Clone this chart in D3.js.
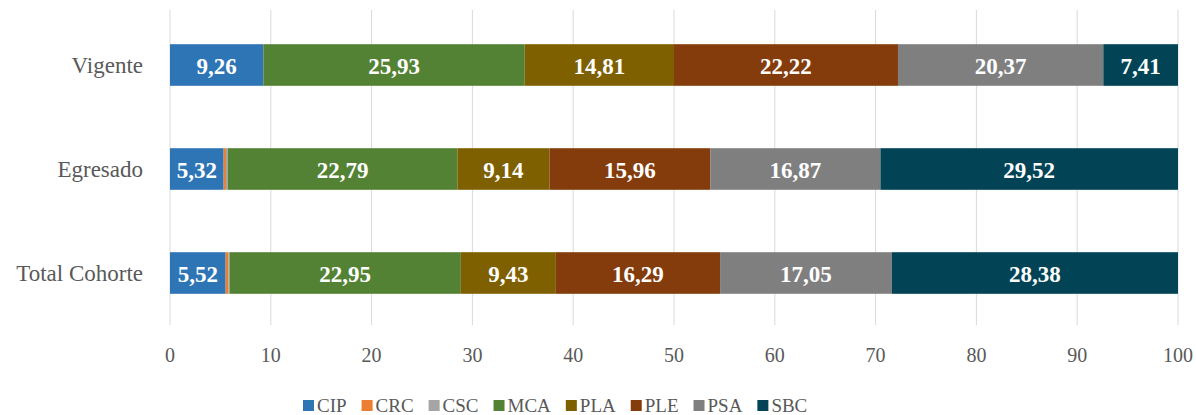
<!DOCTYPE html>
<html>
<head>
<meta charset="utf-8">
<script src="https://cdn.jsdelivr.net/npm/d3@7"></script>
<style>
  body { margin: 0; background: #fff; }
  svg { font-family: "Liberation Serif", "DejaVu Serif", serif; }
  .grid line { stroke: #d9d9d9; stroke-width: 1; }
  .tick-label { fill: #595959; font-size: 20px; }
  .cat-label { fill: #595959; font-size: 23px; }
  .value { fill: #fff; font-size: 23px; font-weight: bold; }
  .legend text { fill: #595959; font-size: 19px; }
</style>
</head>
<body>
<svg width="1196" height="415"></svg>
<script>
const WIDTH = 1196;
const HEIGHT = 415;

const categories = ["Vigente", "Egresado", "Total Cohorte"];
const seriesNames = ["CIP", "CRC", "CSC", "MCA", "PLA", "PLE", "PSA", "SBC"];
const seriesColors = ["#2e75b6", "#ed7d31", "#a5a5a5", "#548235", "#7f6000", "#843c0c", "#7f7f7f", "#024456"];

// one array per series, values in the order of categories
const CIP = [9.26, 5.32, 5.52];
const CRC = [0, 0.23, 0.28];
const CSC = [0, 0.17, 0.10];
const MCA = [25.93, 22.79, 22.95];
const PLA = [14.81, 9.14, 9.43];
const PLE = [22.22, 15.96, 16.29];
const PSA = [20.37, 16.87, 17.05];
const SBC = [7.41, 29.52, 28.38];

const tickValues = [0, 10, 20, 30, 40, 50, 60, 70, 80, 90, 100];

const seriesValues = [CIP, CRC, CSC, MCA, PLA, PLE, PSA, SBC];
const table = categories.map((c, i) => {
  const row = { category: c };
  seriesNames.forEach((s, j) => row[s] = seriesValues[j][i]);
  return row;
});

const x = d3.scaleLinear().domain([0, 100]).range([170, 1178]);
const y = d3.scaleBand().domain(categories).range([13, 325])
  .paddingInner(0.6).paddingOuter(0.3);
const color = d3.scaleOrdinal().domain(seriesNames).range(seriesColors);

const stacked = d3.stack().keys(seriesNames)(table);

const svg = d3.select("svg");

// vertical grid
svg.append("g").classed("grid", true)
  .selectAll("line")
  .data(tickValues)
  .enter()
  .append("line")
  .attr("x1", d => x(d)).attr("x2", d => x(d))
  .attr("y1", 10).attr("y2", 325);

// tick labels
svg.append("g")
  .selectAll("text")
  .data(tickValues)
  .enter()
  .append("text")
  .classed("tick-label", true)
  .attr("x", d => x(d))
  .attr("y", 355)
  .attr("text-anchor", "middle")
  .attr("dominant-baseline", "central")
  .text(d => d);

// category labels
svg.append("g")
  .selectAll("text")
  .data(categories)
  .enter()
  .append("text")
  .classed("cat-label", true)
  .attr("x", 143)
  .attr("y", d => y(d) + y.bandwidth() / 2)
  .attr("text-anchor", "end")
  .attr("dominant-baseline", "central")
  .text(d => d);

// bars
const layers = svg.append("g")
  .selectAll("g")
  .data(stacked)
  .enter()
  .append("g")
  .attr("fill", d => color(d.key));

layers.selectAll("rect")
  .data(d => d)
  .enter()
  .append("rect")
  .attr("x", d => x(d[0]))
  .attr("width", d => x(d[1]) - x(d[0]))
  .attr("y", d => y(d.data.category))
  .attr("height", y.bandwidth());

// value labels
const fmt = v => v.toFixed(2).replace(".", ",");
layers.selectAll("text")
  .data(d => d.filter(p => p[1] - p[0] > 1))
  .enter()
  .append("text")
  .classed("value", true)
  .attr("x", d => (x(d[0]) + x(d[1])) / 2)
  .attr("y", d => y(d.data.category) + y.bandwidth() / 2 + 1)
  .attr("text-anchor", "middle")
  .attr("dominant-baseline", "central")
  .text(d => fmt(d[1] - d[0]));

// legend
const legend = svg.append("g").classed("legend", true);
let lx = 303;
seriesNames.forEach(s => {
  const item = legend.append("g").attr("transform", `translate(${lx},0)`);
  item.append("rect").attr("x", 0).attr("y", 400).attr("width", 11).attr("height", 11)
    .attr("fill", color(s));
  const t = item.append("text").attr("x", 14).attr("y", 412).text(s);
  lx += 14 + t.node().getComputedTextLength() + 15;
});
</script>
</body>
</html>
